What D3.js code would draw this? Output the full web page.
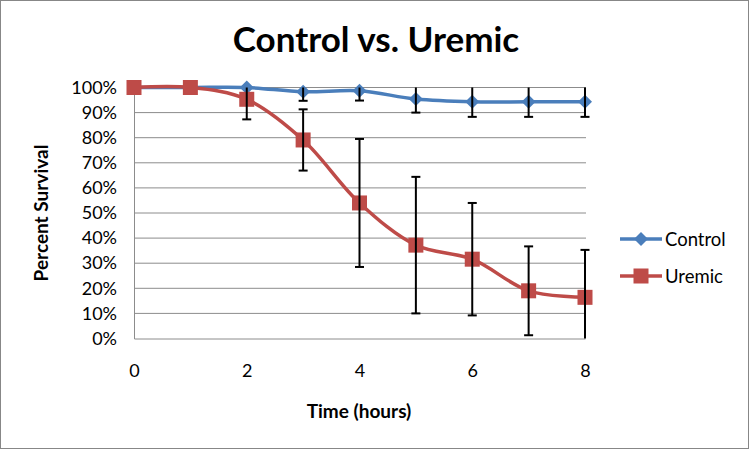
<!DOCTYPE html>
<html><head><meta charset="utf-8">
<script src="https://cdn.jsdelivr.net/npm/d3@7"></script>
<style>html,body{margin:0;padding:0;background:#fff}svg{display:block}text{font-family:Lato,"Open Sans",sans-serif}</style>
</head><body>
<svg id="c" width="752" height="451"></svg>
<script>
const hours = [0,1,2,3,4,5,6,7,8];
const controlValues = [100,100,100,98.3,98.7,95.4,94.3,94.3,94.3];
const controlErrors = [0,0,0,3.6,3.9,5.4,6.0,6.0,6.0];
const uremicValues = [100,100,95.3,79.1,54.0,37.2,31.6,19.0,16.4];
const uremicErrors = [0,0,8,12.2,25.5,27.2,22.4,17.7,18.9];
const xTicks = [0,2,4,6,8];
const yTicks = [0,10,20,30,40,50,60,70,80,90,100];
const seriesNames = ["Control","Uremic"];
const colors = ["#4A7EBB","#BE4B48"];

const svg = d3.select("#c");
svg.append("rect").attr("x",0.5).attr("y",0.5).attr("width",748).attr("height",448)
  .attr("fill","#fff").attr("stroke","#878787").attr("stroke-width",1);

const x = d3.scaleLinear().domain([0,8]).range([134,585]);
const y = d3.scaleLinear().domain([0,100]).range([338.5,87.5]);

// gridlines
svg.append("g").selectAll("line").data(yTicks.filter(d=>d>0)).join("line")
  .attr("x1",134).attr("x2",586).attr("y1",d=>y(d)).attr("y2",d=>y(d))
  .attr("stroke","#8C8C8C").attr("stroke-width",1);

// axes
const yAxis = svg.append("g").attr("transform","translate(134,0)")
  .call(d3.axisLeft(y).tickValues(yTicks).tickFormat(d=>d+"%").tickSize(0).tickPadding(17));
yAxis.select(".domain").attr("stroke","#8C8C8C");
yAxis.selectAll("text").attr("font-size",18).attr("fill","#000").attr("font-family","Lato,sans-serif");

const xAxis = svg.append("g").attr("transform","translate(0,338.5)")
  .call(d3.axisBottom(x).tickValues(xTicks).tickFormat(d3.format("d")).tickSize(0).tickPadding(26));
xAxis.select(".domain").attr("stroke","#8C8C8C");
xAxis.selectAll("text").attr("font-size",18).attr("fill","#000").attr("font-family","Lato,sans-serif");

const line = d3.line().x((d,i)=>x(hours[i])).y(d=>y(d)).curve(d3.curveCatmullRom.alpha(0.5));

const sets = [
  {name:seriesNames[0], vals:controlValues, errs:controlErrors, color:colors[0], marker:"diamond"},
  {name:seriesNames[1], vals:uremicValues, errs:uremicErrors, color:colors[1], marker:"square"}
];

sets.forEach(s=>{
  svg.append("path").attr("d",line(s.vals)).attr("fill","none")
    .attr("stroke",s.color).attr("stroke-width",3.5).attr("stroke-linejoin","round");
});

function drawMarker(g, type, cx, cy, color){
  if(type==="diamond"){
    g.append("path").attr("d",`M${cx},${cy-7}L${cx+7},${cy}L${cx},${cy+7}L${cx-7},${cy}Z`).attr("fill",color);
  } else {
    g.append("rect").attr("x",cx-7.5).attr("y",cy-7.5).attr("width",15).attr("height",15).attr("fill",color);
  }
}

sets.forEach(s=>{
  const g = svg.append("g");
  s.vals.forEach((v,i)=>drawMarker(g,s.marker,x(hours[i]),y(v),s.color));
});

// error bars
sets.forEach(s=>{
  const g = svg.append("g").attr("stroke","#000").attr("stroke-width",2);
  s.vals.forEach((v,i)=>{
    const e = s.errs[i]; if(!e) return;
    const hi = Math.min(100, v+e), lo = Math.max(0, v-e);
    const cx = x(hours[i]);
    g.append("line").attr("x1",cx).attr("x2",cx).attr("y1",y(hi)).attr("y2",y(lo));
    if(v+e<=100) g.append("line").attr("x1",cx-4.5).attr("x2",cx+4.5).attr("y1",y(hi)).attr("y2",y(hi));
    if(v-e>=0) g.append("line").attr("x1",cx-4.5).attr("x2",cx+4.5).attr("y1",y(lo)).attr("y2",y(lo));
  });
});

// title
svg.append("text").attr("x",376).attr("y",52).attr("text-anchor","middle")
  .attr("font-size",35).attr("font-weight","bold").text("Control vs. Uremic");
svg.append("text").attr("x",359).attr("y",418).attr("text-anchor","middle")
  .attr("font-size",19).attr("font-weight","bold").text("Time (hours)");
svg.append("text").attr("transform","translate(48,213) rotate(-90)").attr("text-anchor","middle")
  .attr("font-size",19).attr("font-weight","bold").text("Percent Survival");

// legend
sets.forEach((s,i)=>{
  const ly = 239 + i*37;
  const g = svg.append("g");
  g.append("line").attr("x1",620).attr("x2",662).attr("y1",ly).attr("y2",ly).attr("stroke",s.color).attr("stroke-width",3.5);
  drawMarker(g,s.marker,641,ly,s.color);
  g.append("text").attr("x",665).attr("y",ly+6.5).attr("font-size",18.5).text(s.name);
});
</script>
</body></html>
